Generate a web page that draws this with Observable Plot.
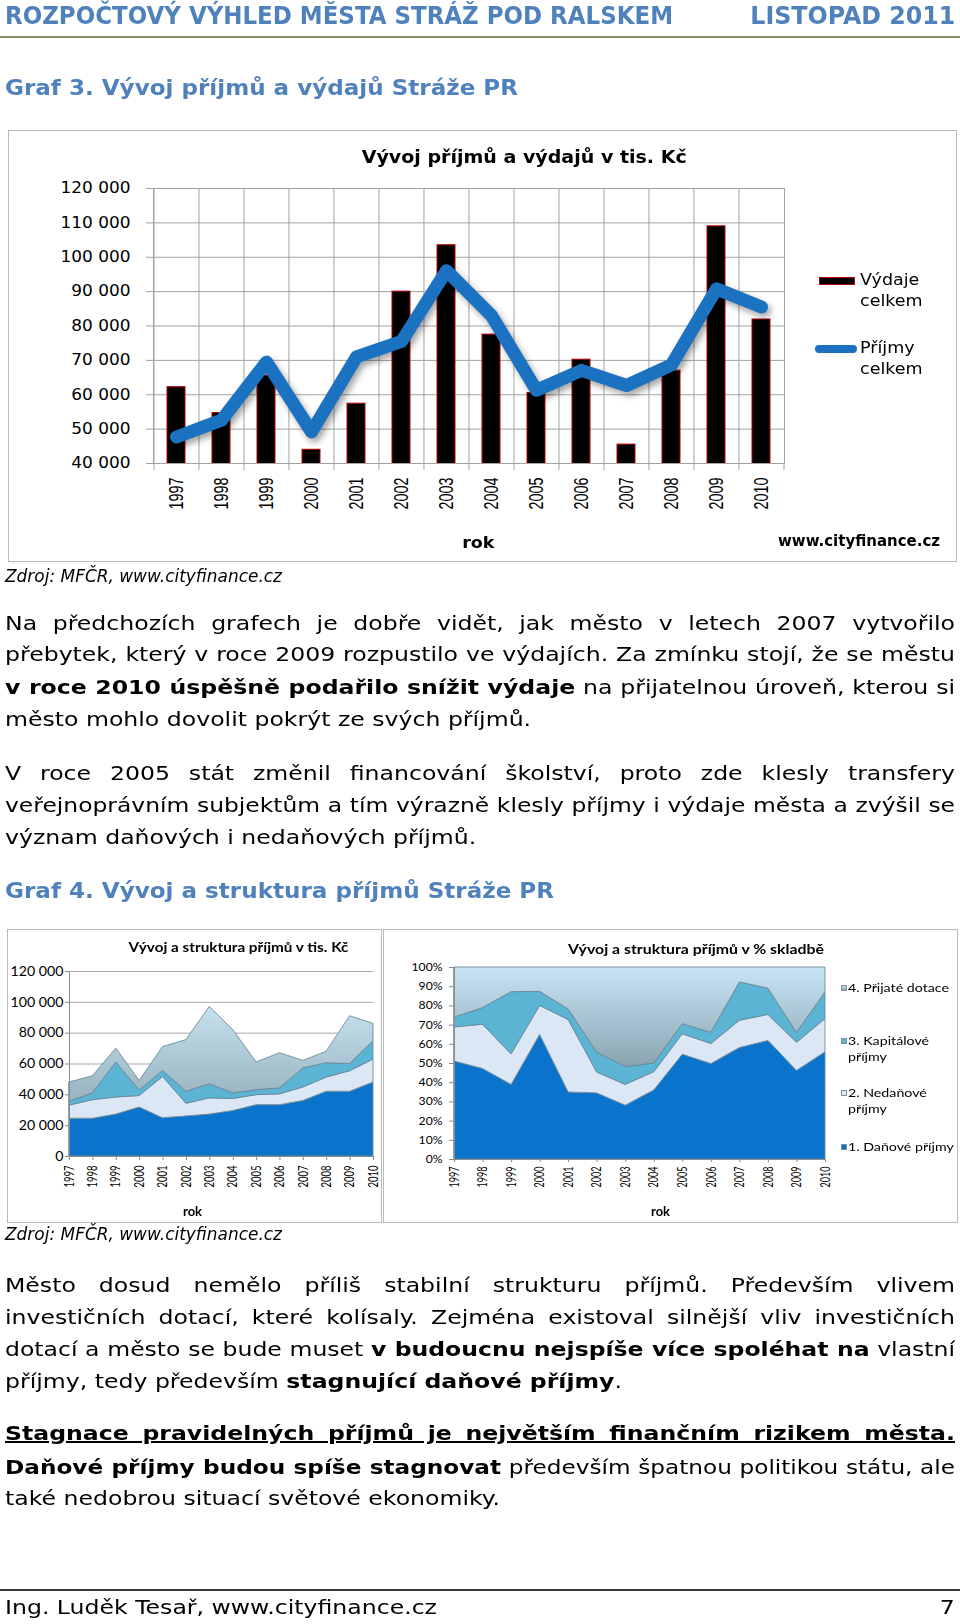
<!DOCTYPE html>
<html><head><meta charset="utf-8">
<script src="https://cdn.jsdelivr.net/npm/d3@7"></script>
<script src="https://cdn.jsdelivr.net/npm/@observablehq/plot@0.6"></script>
<style>
html,body{margin:0;padding:0;background:#fff;}
#page{position:relative;width:960px;height:1624px;overflow:hidden;background:#fff;font-family:"DejaVu Sans",Verdana,sans-serif;color:#000;}
.t{position:absolute;white-space:nowrap;line-height:normal;}
.box{position:absolute;border:1.5px solid #b9b9b9;box-sizing:border-box;}
.plot{position:absolute;}
.plot svg{display:block;}
.hr{position:absolute;left:0;width:960px;}
.sw{position:absolute;box-sizing:border-box;}
</style></head><body><div id="page"></div>
<script>
// ---------------- DATA ----------------
const years = [1997, 1998, 1999, 2000, 2001, 2002, 2003, 2004, 2005, 2006, 2007, 2008, 2009, 2010];
// Graf 3 – tis. Kč
const vydajeCelkem = [62200, 54700, 65500, 44000, 57400, 90000, 103500, 77500, 60500, 70200, 45500, 67000, 109000, 81900];
const prijmyCelkem = [47700, 52600, 69500, 49200, 71000, 75500, 96100, 83000, 61300, 67100, 62700, 68700, 90800, 85500];
// Graf 4 – structure of income, tis. Kč
const danovePrijmy     = [24500, 24500, 27200, 31800, 24800, 26000, 27200, 29500, 33300, 33300, 36000, 42000, 42000, 48000];
const nedanovePrijmy   = [8500, 12000, 11100, 7400, 26800, 8200, 10500, 7800, 6500, 7000, 8800, 9200, 13300, 14900];
const kapitalovePrijmy = [2500, 4500, 22700, 3600, 3900, 7800, 9100, 3700, 3200, 3900, 12400, 9300, 4700, 12000];
const prijateDotace    = [12500, 11000, 9000, 6200, 15500, 33500, 50200, 41000, 18000, 22800, 4800, 7500, 31000, 11100];
const seriesNames = ["1. Daňové příjmy", "2. Nedaňové příjmy", "3. Kapitálové příjmy", "4. Přijaté dotace"];
const yTicksGraf3 = [40000, 50000, 60000, 70000, 80000, 90000, 100000, 110000, 120000];
const yTicksGraf4 = [0, 20000, 40000, 60000, 80000, 100000, 120000];
const pctTicks = [0, 0.1, 0.2, 0.3, 0.4, 0.5, 0.6, 0.7, 0.8, 0.9, 1];

const BLUE = "#4f81bd";
const page = document.getElementById("page");
const fmtSpace = d => d3.format(",")(d).replace(/,/g, " ");

// --------------- text helpers ---------------
function put(html, o) {
  const el = document.createElement("div");
  el.className = "t";
  el.innerHTML = html;
  const ff = o.ff || "DejaVu Sans";
  el.style.fontFamily = `"${ff}"`;
  el.style.fontSize = o.fs + "px";
  el.style.fontWeight = o.bold ? "bold" : "normal";
  if (o.italic) el.style.fontStyle = "italic";
  el.style.color = o.color || "#000";
  page.appendChild(el);
  const w = el.getBoundingClientRect().width;
  const s = o.width ? o.width / w : (o.s || 1);
  const k = ff === "Lato" ? 0.629 : 0.568;
  el.style.top = (o.y - k * o.fs) + "px";
  const align = o.align || "left";
  if (align === "left") { el.style.left = o.x + "px"; el.style.transformOrigin = "0 0"; }
  else if (align === "center") { el.style.left = (o.x - w / 2) + "px"; el.style.transformOrigin = "50% 0"; }
  else { el.style.left = (o.x - w) + "px"; el.style.transformOrigin = "100% 0"; }
  el.style.transform = `scaleX(${s})`;
  return s;
}

const FS = 20;
function bodyLine(html, y, justify, s) {
  const el = document.createElement("div");
  el.className = "t";
  el.innerHTML = html;
  el.style.fontSize = FS + "px";
  page.appendChild(el);
  const w = el.getBoundingClientRect().width;
  let sc = s;
  if (justify) {
    if ((w + 2) * sc > 950) sc = 950 / (w + 2);
    el.style.whiteSpace = "normal";
    el.style.width = (950 / sc) + "px";
    el.style.textAlign = "justify";
    el.style.textAlignLast = "justify";
  }
  el.style.left = "5px";
  el.style.top = (y - 0.568 * FS) + "px";
  el.style.transformOrigin = "0 0";
  el.style.transform = `scaleX(${sc})`;
}

function addDiv(cls, css) {
  const d = document.createElement("div");
  d.className = cls;
  Object.assign(d.style, css);
  page.appendChild(d);
  return d;
}

function stretchSvgText(svg, selector, s, fixedLength) {
  svg.querySelectorAll(selector).forEach(t => {
    if (!t.textContent) return;
    const len = fixedLength || t.getComputedTextLength() * s;
    t.setAttribute("textLength", len);
    t.setAttribute("lengthAdjust", "spacingAndGlyphs");
  });
}

// --------------- page header ---------------
put("ROZPOČTOVÝ VÝHLED MĚSTA STRÁŽ POD RALSKEM", {x: 5, y: 15.8, fs: 24, bold: true, color: BLUE, width: 668});
put("LISTOPAD 2011", {x: 955, y: 15.8, fs: 24, bold: true, color: BLUE, width: 205, align: "right"});
addDiv("hr", {top: "36px", height: "2px", background: "#8e8a6c"});
put("Graf 3. Vývoj příjmů a výdajů Stráže PR", {x: 5, y: 87.5, fs: 22, bold: true, color: BLUE, width: 513});

// --------------- GRAF 3 ---------------
addDiv("box", {left: "8px", top: "130px", width: "949px", height: "432px"});
const W1 = 949, H1 = 432, ML1 = 145, MR1 = 173, MT1 = 58, MB1 = 99;
const PIN = 0.6, POUT = 0.3;
const step1 = (W1 - ML1 - MR1) / (years.length - PIN + 2 * POUT);
const graf3 = years.map((y, i) => ({year: String(y), vydaje: vydajeCelkem[i], prijmy: prijmyCelkem[i]}));
const gridC = "#a2a2a2";
const p1 = Plot.plot({
  width: W1, height: H1, marginLeft: ML1, marginRight: MR1, marginTop: MT1, marginBottom: MB1,
  style: {background: "transparent", color: "#000", fontFamily: "DejaVu Sans", overflow: "visible"},
  x: {type: "band", domain: years.map(String), paddingInner: PIN, paddingOuter: POUT, axis: null},
  y: {domain: [40000, 120000], axis: null},
  marks: [
    Plot.gridY({ticks: yTicksGraf3, stroke: gridC, strokeOpacity: 1}),
    Plot.gridX({dx: -step1 / 2, stroke: gridC, strokeOpacity: 1}),
    Plot.frame({stroke: gridC}),
    Plot.axisY({ticks: yTicksGraf3, tickFormat: fmtSpace, tickSize: 7, tickPadding: 16, stroke: gridC, fill: "#000", fontSize: 15, fontFamily: "DejaVu Sans", label: null}),
    Plot.axisX({tickSize: 7, tickFormat: () => "", dx: -step1 / 2, stroke: gridC, label: null}),
    Plot.axisX({ticks: [String(years[years.length - 1])], tickSize: 7, tickFormat: () => "", dx: step1 / 2, stroke: gridC, label: null}),
    Plot.axisX({tickSize: 0, tickPadding: 14, tickRotate: -90, fill: "#000", fontSize: 21, fontFamily: "Liberation Sans", label: null}),
    Plot.barY(graf3, {x: "year", y: "vydaje", fill: "#000", stroke: "#c00000", strokeWidth: 1, clip: true}),
    Plot.lineY(graf3, {x: "year", y: "prijmy", stroke: "#1b72c0", strokeWidth: 13, strokeLinejoin: "round", strokeLinecap: "round"})
  ]
});
const c1 = addDiv("plot", {left: "8px", top: "130px"});
c1.appendChild(p1);
p1.querySelectorAll('g[aria-label="line"] path').forEach(p => p.style.filter = "drop-shadow(3px 4px 3px rgba(0,0,0,0.35))");
stretchSvgText(p1, 'g[aria-label="y-axis tick label"] text', 1.13);
stretchSvgText(p1, 'g[aria-label="x-axis tick label"] text', 1, 32);

put("Vývoj příjmů a výdajů v tis. Kč", {x: 524.5, y: 157, fs: 17, bold: true, width: 325, align: "center"});
put("rok", {x: 478, y: 542.5, fs: 15.5, bold: true, s: 1.13, align: "center"});
put("www.cityfinance.cz", {x: 778, y: 540.7, fs: 15, bold: true, width: 162});
// legend
addDiv("sw", {left: "819px", top: "277px", width: "36px", height: "8px", background: "#000", border: "1px solid #c00000"});
addDiv("sw", {left: "815px", top: "345px", width: "42px", height: "8px", background: "#1b72c0", borderRadius: "4px"});
put("Výdaje", {x: 860, y: 280, fs: 15.5, s: 1.13});
put("celkem", {x: 860, y: 300.8, fs: 15.5, s: 1.13});
put("Příjmy", {x: 860, y: 348.3, fs: 15.5, s: 1.13});
put("celkem", {x: 860, y: 368.8, fs: 15.5, s: 1.13});

put("Zdroj: MFČR, www.cityfinance.cz", {x: 5, y: 575.5, fs: 18, italic: true, width: 277});

// --------------- text ---------------
const probe = document.createElement("div");
probe.className = "t"; probe.style.fontSize = FS + "px";
probe.textContent = "Ing. Luděk Tesař, www.cityfinance.cz";
page.appendChild(probe);
const SB = 432 / probe.getBoundingClientRect().width;
probe.remove();

bodyLine("Na předchozích grafech je dobře vidět, jak město v&nbsp;letech 2007 vytvořilo", 622.5, true, SB);
bodyLine("přebytek, který v roce 2009 rozpustilo ve výdajích. Za zmínku stojí, že se městu", 653.8, true, SB);
bodyLine("<b>v roce 2010 úspěšně podařilo snížit výdaje</b> na přijatelnou úroveň, kterou si", 686.5, true, SB);
bodyLine("město mohlo dovolit pokrýt ze svých příjmů.", 718.5, false, SB);

bodyLine("V&nbsp;roce 2005 stát změnil financování školství, proto zde klesly transfery", 772.5, true, SB);
bodyLine("veřejnoprávním subjektům a tím výrazně klesly příjmy i výdaje města a zvýšil se", 804.3, true, SB);
bodyLine("význam daňových i nedaňových příjmů.", 836.3, false, SB);

put("Graf 4. Vývoj a struktura příjmů Stráže PR", {x: 5, y: 890.5, fs: 22, bold: true, color: BLUE, width: 549});

// --------------- GRAF 4 ---------------
const long = years.flatMap((y, i) => [
  {year: y, series: seriesNames[0], value: danovePrijmy[i]},
  {year: y, series: seriesNames[1], value: nedanovePrijmy[i]},
  {year: y, series: seriesNames[2], value: kapitalovePrijmy[i]},
  {year: y, series: seriesNames[3], value: prijateDotace[i]}
]);
const areaStroke = "#6a8696";

// left: absolute values
addDiv("box", {left: "7px", top: "929px", width: "375px", height: "294px"});
const p2 = Plot.plot({
  width: 374, height: 293, marginLeft: 62, marginRight: 8, marginTop: 42, marginBottom: 66,
  style: {background: "transparent", color: "#000", fontFamily: "Lato", overflow: "visible"},
  x: {domain: [years[0], years[years.length - 1]], axis: null},
  y: {domain: [0, 120000], axis: null},
  color: {domain: seriesNames, range: ["#0a73cb", "#dce7f6", "#5cb4d5", "url(#gradL)"]},
  marks: [
    Plot.gridY({ticks: yTicksGraf4, stroke: "#a6a6a6", strokeOpacity: 1}),
    Plot.areaY(long, {x: "year", y: "value", fill: "series", z: "series", stroke: areaStroke, strokeWidth: 1, strokeOpacity: 0.85}),
    Plot.ruleY([0], {stroke: "#8c8c8c"}),
    Plot.ruleX([years[0]], {stroke: "#8c8c8c"}),
    Plot.axisY({ticks: yTicksGraf4, tickFormat: fmtSpace, tickSize: 4, tickPadding: 2, stroke: "#8c8c8c", fill: "#000", fontSize: 13, fontFamily: "Lato", label: null}),
    Plot.axisX({ticks: years, tickFormat: "d", tickRotate: -90, tickSize: 4, tickPadding: 5, stroke: "#8c8c8c", fill: "#000", fontSize: 13, fontFamily: "Lato", label: null})
  ]
});
const c2 = addDiv("plot", {left: "7px", top: "929px"});
c2.appendChild(p2);
d3.select(p2).insert("defs", ":first-child").html(
  '<linearGradient id="gradL" x1="0" y1="0" x2="0" y2="1"><stop offset="0" stop-color="#c6e1ee"/><stop offset="1" stop-color="#98b2bf"/></linearGradient>');
{
  const lab = [...p2.querySelectorAll('g[aria-label="y-axis tick label"] text')].find(t => t.textContent === "120 000");
  const sY = lab ? 53 / lab.getComputedTextLength() : 1.1;
  stretchSvgText(p2, 'g[aria-label="y-axis tick label"] text', sY);
}
stretchSvgText(p2, 'g[aria-label="x-axis tick label"] text', 1, 22);
put("Vývoj a struktura příjmů v tis. Kč", {x: 238, y: 947.2, fs: 13, bold: true, ff: "Lato", width: 220, align: "center"});
put("rok", {x: 192.5, y: 1211, fs: 13, bold: true, ff: "Lato", width: 19, align: "center"});

// right: normalized shares
addDiv("box", {left: "383px", top: "929px", width: "575px", height: "294px"});
const p3 = Plot.plot({
  width: 575, height: 294, marginLeft: 71, marginRight: 133, marginTop: 38, marginBottom: 64,
  style: {background: "transparent", color: "#000", fontFamily: "Lato", overflow: "visible"},
  x: {domain: [years[0], years[years.length - 1]], axis: null},
  y: {domain: [0, 1], axis: null},
  color: {domain: seriesNames, range: ["#0a73cb", "#dce7f6", "#5cb4d5", "url(#gradR)"]},
  marks: [
    Plot.areaY(long, {x: "year", y: "value", fill: "series", z: "series", offset: "normalize", stroke: areaStroke, strokeWidth: 1, strokeOpacity: 0.85}),
    Plot.ruleY([0], {stroke: "#8c8c8c"}),
    Plot.ruleX([years[0]], {stroke: "#8c8c8c"}),
    Plot.axisY({ticks: pctTicks, tickFormat: d3.format(".0%"), tickSize: 5, tickPadding: 7, stroke: "#8c8c8c", fill: "#000", fontSize: 11, fontFamily: "Lato", label: null}),
    Plot.axisX({ticks: years, tickFormat: "d", tickRotate: -90, tickSize: 3, tickPadding: 4, stroke: "#8c8c8c", fill: "#000", fontSize: 13, fontFamily: "Lato", label: null})
  ]
});
const c3 = addDiv("plot", {left: "383px", top: "929px"});
c3.appendChild(p3);
d3.select(p3).insert("defs", ":first-child").html(
  '<linearGradient id="gradR" x1="0" y1="0" x2="0" y2="1"><stop offset="0" stop-color="#c8e5f3"/><stop offset="1" stop-color="#8aa4b1"/></linearGradient>');
{
  const lab = [...p3.querySelectorAll('g[aria-label="y-axis tick label"] text')].find(t => t.textContent === "100%");
  const sY = lab ? 31 / lab.getComputedTextLength() : 1.1;
  stretchSvgText(p3, 'g[aria-label="y-axis tick label"] text', sY);
}
stretchSvgText(p3, 'g[aria-label="x-axis tick label"] text', 1, 21);
put("Vývoj a struktura příjmů v % skladbě", {x: 696, y: 948.7, fs: 13, bold: true, ff: "Lato", width: 256, align: "center"});
put("rok", {x: 661, y: 1211, fs: 13, bold: true, ff: "Lato", width: 19, align: "center"});
// legend
const legItems = [
  {lines: ["4. Přijaté dotace"], y: 987.5, c: "linear-gradient(#c8e5f3,#8aa4b1)"},
  {lines: ["3. Kapitálové", "příjmy"], y: 1041, c: "#5cb4d5"},
  {lines: ["2. Nedaňové", "příjmy"], y: 1093, c: "#dce7f6"},
  {lines: ["1. Daňové příjmy"], y: 1147, c: "#0a73cb"}
];
let sLeg = null;
legItems.forEach(it => {
  addDiv("sw", {left: "841px", top: (it.y - 3) + "px", width: "6px", height: "6px", background: it.c, border: "1px solid #7c8f9a"});
  it.lines.forEach((ln, j) => {
    if (sLeg === null) sLeg = put(ln, {x: 848, y: it.y, fs: 12, ff: "Lato", width: 101});
    else put(ln, {x: 848, y: it.y + j * 15.3, fs: 12, ff: "Lato", s: sLeg});
  });
});

put("Zdroj: MFČR, www.cityfinance.cz", {x: 5, y: 1233, fs: 18, italic: true, width: 277});

// --------------- text 2 ---------------
bodyLine("Město dosud nemělo příliš stabilní strukturu příjmů. Především vlivem", 1284, true, SB);
bodyLine("investičních dotací, které kolísaly. Zejména existoval silnější vliv investičních", 1316, true, SB);
bodyLine("dotací a město se bude muset <b>v budoucnu nejspíše více spoléhat na</b> vlastní", 1348, true, SB);
bodyLine("příjmy, tedy především <b>stagnující daňové příjmy</b>.", 1380.5, false, SB);

bodyLine("<b><u>Stagnace pravidelných příjmů je největším finančním rizikem města.</u></b>", 1432.5, true, SB);
bodyLine("<b>Daňové příjmy budou spíše stagnovat</b> především špatnou politikou státu, ale", 1466, true, SB);
bodyLine("také nedobrou situací světové ekonomiky.", 1497.5, false, SB);

// footer
addDiv("hr", {top: "1589px", height: "1.5px", background: "#3a3a3a"});
bodyLine("Ing. Luděk Tesař, www.cityfinance.cz", 1606, false, SB);
put("7", {x: 955, y: 1606, fs: FS, s: SB, align: "right"});
</script></body></html>
